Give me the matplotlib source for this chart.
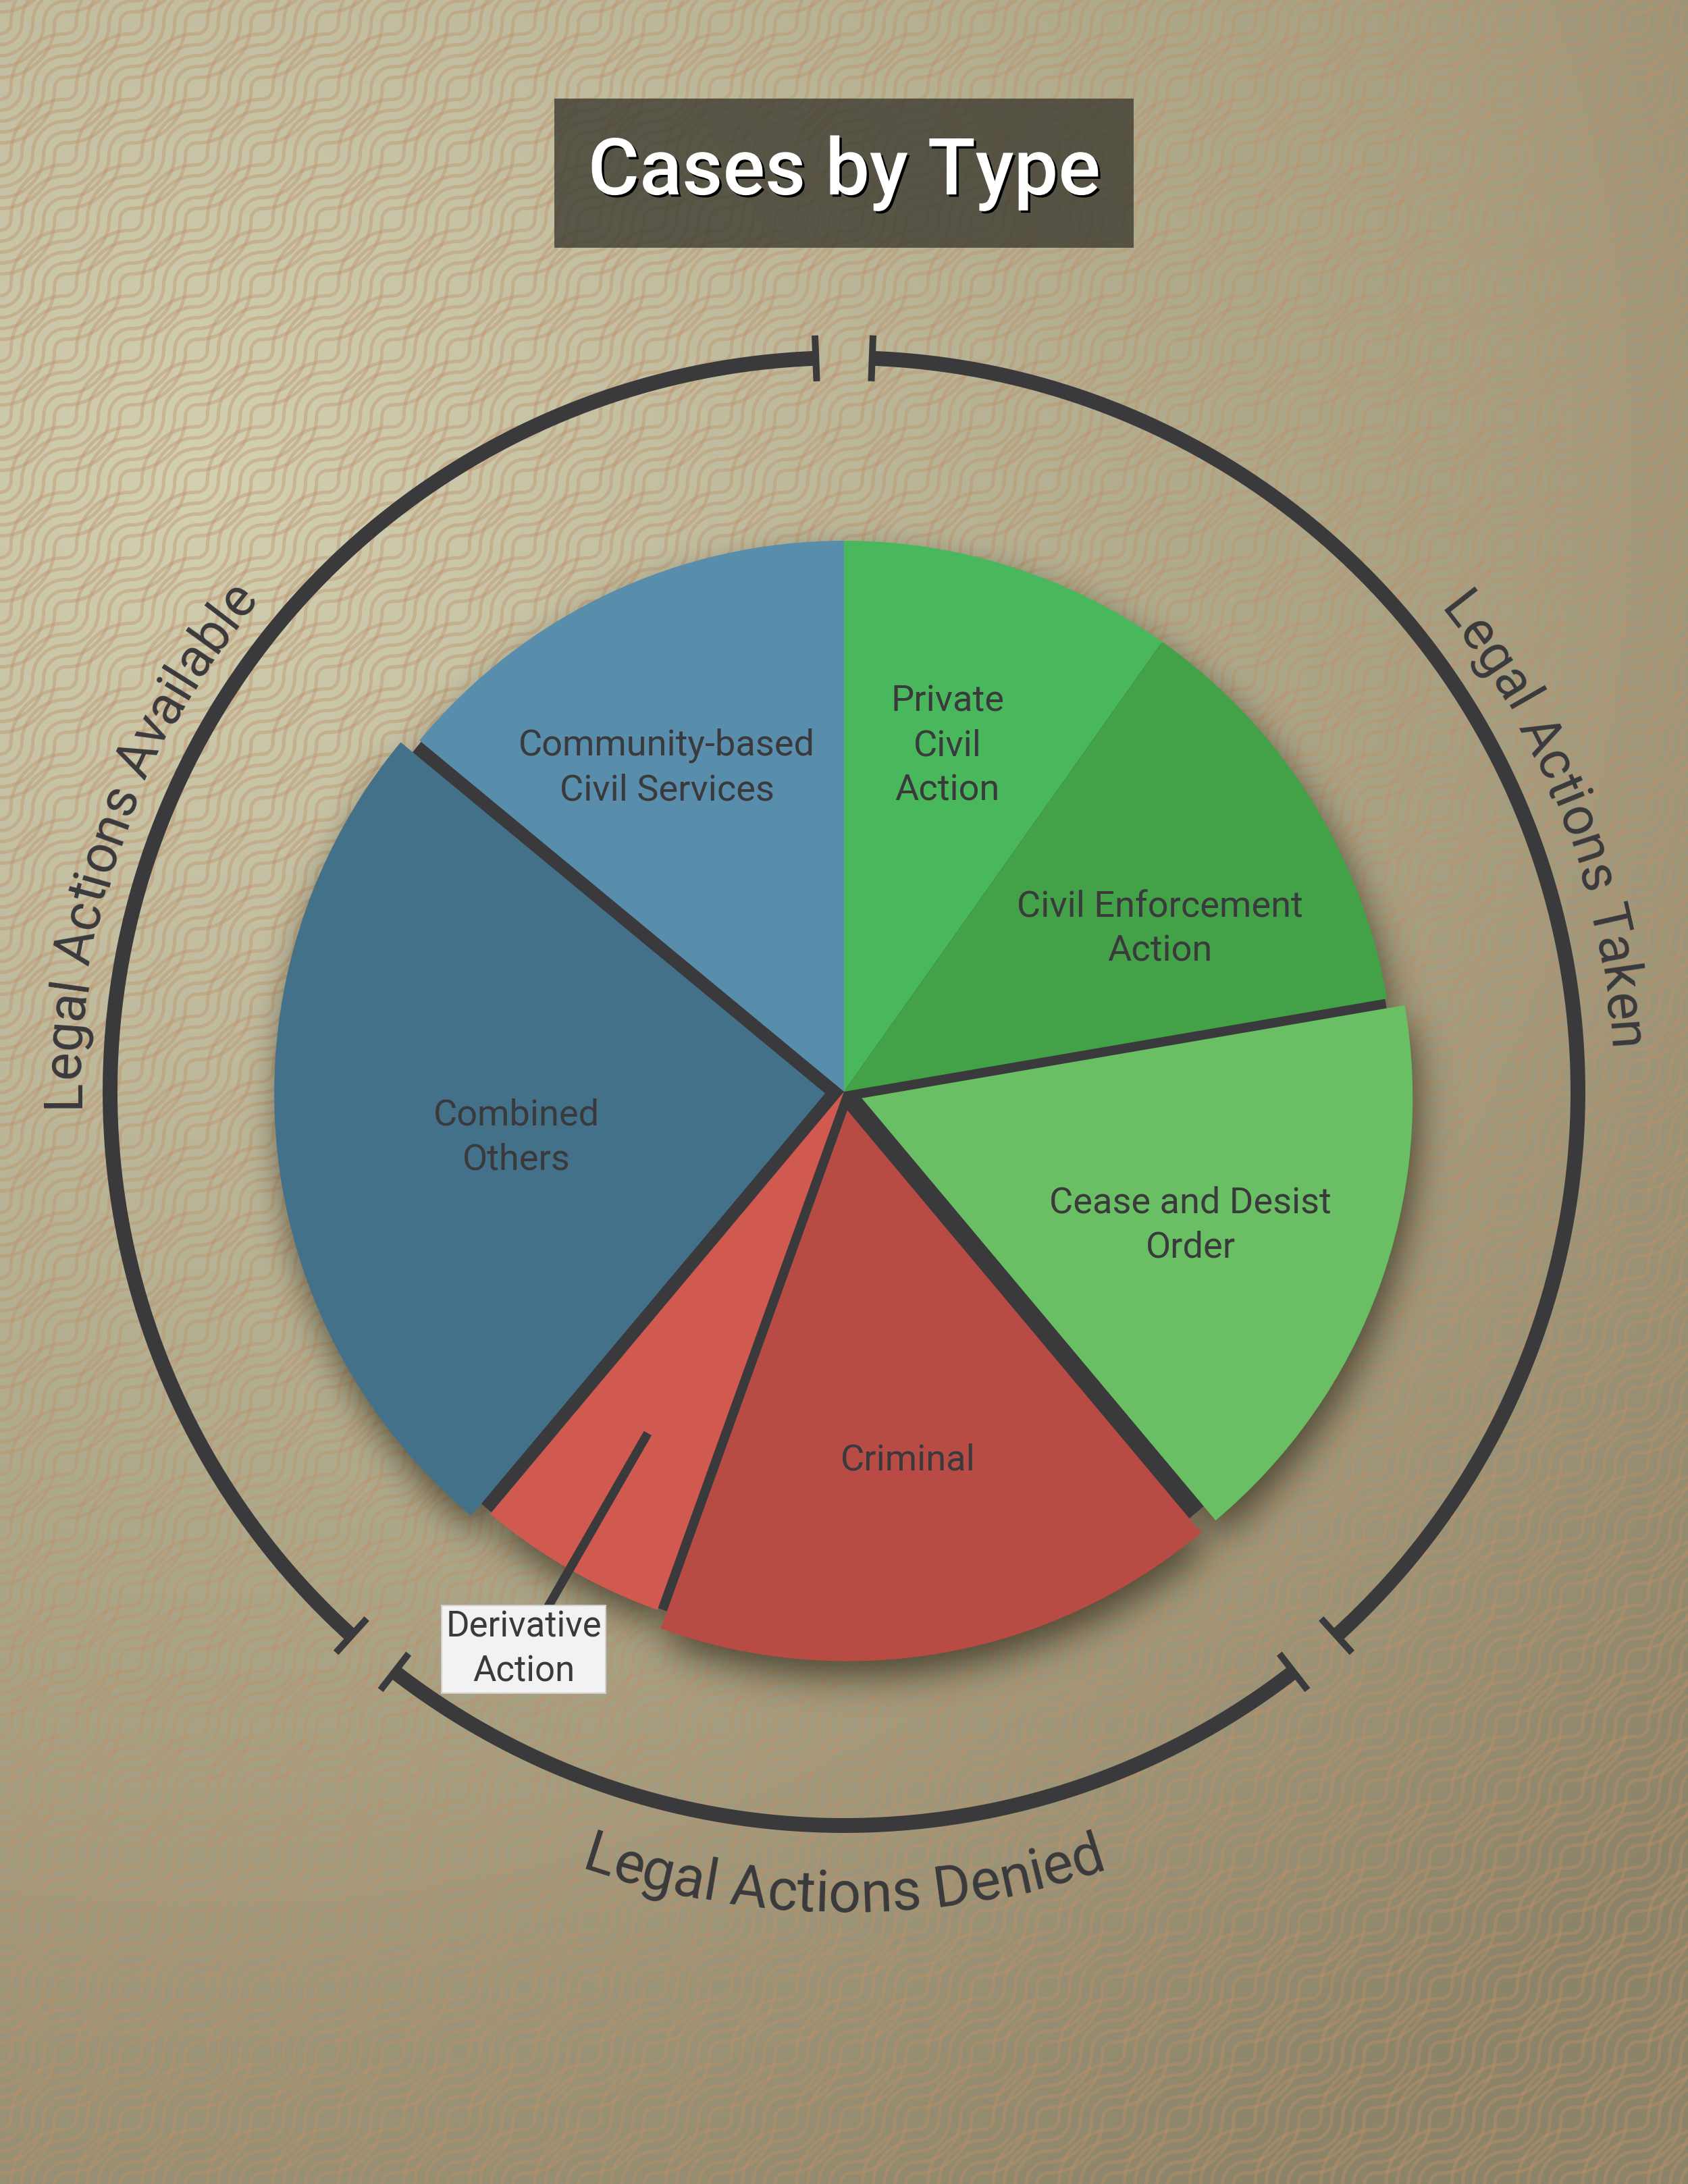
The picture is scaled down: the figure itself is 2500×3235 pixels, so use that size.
import numpy as np
import matplotlib
matplotlib.use("Agg")
import matplotlib.pyplot as plt
import matplotlib.patheffects as pe
from matplotlib.collections import LineCollection
from matplotlib.patches import Circle, Rectangle
from matplotlib.font_manager import FontProperties, findfont, get_font

W, H = 2500, 3235
DPI = 100

# ---- data -------------------------------------------------------------
case_types = ["Private\nCivil\nAction", "Civil Enforcement\nAction",
              "Cease and Desist\nOrder", "Criminal", "Derivative\nAction",
              "Combined\nOthers", "Community-based\nCivil Services"]
shares = [9.8, 12.5, 16.6, 16.6, 5.6, 24.9, 14.0]
slice_colors = ["#49b85c", "#43a148", "#6abe64", "#b84c45",
                "#d05950", "#44718a", "#588dac"]
exploded = [0, 0, 1, 1, 0, 1, 0]

group_names = ["Legal Actions Taken", "Legal Actions Denied", "Legal Actions Available"]
group_sizes = [3, 2, 2]          # number of slices in each group, clockwise

# ---- layout / style ---------------------------------------------------
CX, CY = 1250, H - 1617          # pie centre (y measured upward)
R = 816
EXPLODE = 28
RING_R = 1087
RING_GAP = 2.2                    # degrees left open at each group boundary
DARK = "#3a393c"
LABEL_R = [0.655, 0.645, 0.64, 0.645, None, 0.566, 0.67]
LABEL_TURN = [-1.0, 5.0, 1.0, 0.3, 0.0, -2.9, -3.5]

fig = plt.figure(figsize=(W / DPI, H / DPI), dpi=DPI)
ax = fig.add_axes([0, 0, 1, 1])
ax.set_axis_off()

# background gradient
gx, gy = np.meshgrid(np.linspace(0, W, 120), np.linspace(0, H, 160))
dist = np.clip(np.hypot(gx - 300, gy - (H - 700)) / 3000, 0, 1)
light = np.array([212, 208, 178]) / 255
dark = np.array([140, 132, 104]) / 255
bg = light + (dark - light) * dist[..., None]
ax.imshow(bg, extent=(0, W, 0, H), origin="lower", interpolation="bilinear",
          aspect="auto", zorder=0)

# wave texture: concentric quarter circles from opposite corners of each cell
P = 97.0
radii = P * np.arange(1, 6) / 6
q = np.linspace(0, np.pi / 2, 22)
segs = []
for x0 in np.arange(-P, W + P, P):
    for y0 in np.arange(-P, H + P, P):
        for r in radii:
            segs.append(np.column_stack([x0 + P - r * np.cos(q), y0 + r * np.sin(q)]))
            segs.append(np.column_stack([x0 + r * np.cos(q), y0 + P - r * np.sin(q)]))
ax.add_collection(LineCollection(segs, colors=[(0.74, 0.57, 0.41)],
                                 linewidths=3.6, alpha=0.4, zorder=0.5))

# pie
wedges, _ = ax.pie(shares, colors=slice_colors, startangle=90, counterclock=False,
                   radius=R, center=(CX, CY),
                   explode=[e * EXPLODE for e in exploded],
                   wedgeprops=dict(linewidth=0, zorder=2))

# soft drop shadow of the whole pie (blurred mask)
S = 4
XX, YY = np.meshgrid(np.arange(0, W, S) + S / 2, np.arange(0, H, S) + S / 2)
mask = np.zeros_like(XX)
for w in wedges:
    dx, dy = XX - w.center[0], YY - w.center[1]
    ang = np.degrees(np.arctan2(dy, dx))
    inside = (np.hypot(dx, dy) <= w.r) & (((ang - w.theta1) % 360) <= (w.theta2 - w.theta1))
    mask[inside] = 1.0
sig = 26 / S
kx = np.arange(-int(3 * sig), int(3 * sig) + 1)
kern = np.exp(-0.5 * (kx / sig) ** 2)
kern /= kern.sum()
blur = np.apply_along_axis(lambda v: np.convolve(v, kern, mode="same"), 0, mask)
blur = np.apply_along_axis(lambda v: np.convolve(v, kern, mode="same"), 1, blur)
shadow = np.zeros(mask.shape + (4,))
shadow[..., :3] = np.array([40, 36, 20]) / 255
shadow[..., 3] = 0.68 * blur
ax.imshow(shadow, extent=(8, W + 8, -24, H - 24), origin="lower",
          interpolation="bilinear", aspect="auto", zorder=0.8)

# dark base that shows through the gaps of the exploded slices
ax.add_patch(Circle((CX, CY), R - 3, fc=DARK, lw=0, zorder=1))

# slice labels
for w, lab, lr, turn in zip(wedges, case_types, LABEL_R, LABEL_TURN):
    if lr is None:
        continue
    th = np.radians((w.theta1 + w.theta2) / 2 - turn)
    ax.text(w.center[0] + lr * w.r * np.cos(th), w.center[1] + lr * w.r * np.sin(th),
            lab, ha="center", va="center", multialignment="center",
            fontsize=39, family="Roboto", color=DARK, linespacing=1.38, zorder=4)

# the small slice gets a leader line and boxed label
dw = wedges[4]
th = np.radians((dw.theta1 + dw.theta2) / 2)
ux, uy = np.cos(th), np.sin(th)
ax.plot([dw.center[0] + 0.715 * R * ux, dw.center[0] + 1.08 * R * ux],
        [dw.center[1] + 0.715 * R * uy, dw.center[1] + 1.08 * R * uy],
        color=DARK, lw=9.4, solid_capstyle="butt", zorder=3)
ax.text(dw.center[0] + 1.167 * R * ux, dw.center[1] + 1.167 * R * uy, case_types[4],
        ha="center", va="center", multialignment="center", fontsize=38,
        family="Roboto", color=DARK, linespacing=1.38, zorder=5,
        bbox=dict(boxstyle="square,pad=0.12", fc="#f2f2f2", ec="#d0d0d0", lw=1.5))

# group rings (angles clockwise from 12 o'clock)
bounds = np.concatenate([[0], np.cumsum(shares)]) / sum(shares) * 360
edges = np.concatenate([[0], np.cumsum(group_sizes)])


def polar(r, phi):
    p = np.radians(phi)
    return CX + r * np.sin(p), CY + r * np.cos(p)


def arc_text(s, phi_c, r_base, size, bottom):
    fp = FontProperties(family="Roboto", size=size)
    ft = get_font(findfont(fp))
    ft.set_size(size, DPI)
    adv = np.array([ft.load_char(ord(c)).linearHoriAdvance / 65536 for c in s])
    pos = np.cumsum(adv) - adv / 2 - adv.sum() / 2
    for ch, p in zip(s, pos):
        if ch == " ":
            continue
        if bottom:
            phi = phi_c - np.degrees(p / r_base)
            rot = 180 - phi
        else:
            phi = phi_c + np.degrees(p / r_base)
            rot = -phi
        x, y = polar(r_base, phi)
        ax.text(x, y, ch, rotation=rot, rotation_mode="anchor", ha="center",
                va="baseline", fontproperties=fp, color=DARK, zorder=4)


for name, i0, i1 in zip(group_names, edges[:-1], edges[1:]):
    p0, p1 = bounds[i0] + RING_GAP, bounds[i1] - RING_GAP
    phis = np.linspace(p0, p1, 400)
    xs, ys = polar(RING_R, phis)
    ax.plot(xs, ys, color=DARK, lw=15.8, solid_capstyle="butt", zorder=3)
    for end in (p0, p1):
        tx, ty = polar(np.array([RING_R - 34, RING_R + 34]), end)
        ax.plot(tx, ty, color=DARK, lw=7.2, solid_capstyle="butt", zorder=3)
    mid = (p0 + p1) / 2
    if 150 < mid < 210:
        arc_text(name, mid, 1215, 61, True)
    elif mid < 180:
        arc_text(name, mid - 1.0, 1134, 57, False)
    else:
        arc_text(name, mid - 0.5, 1134, 57, False)

# title
ax.add_patch(Rectangle((821, H - 367), 858, 221, fc="#3b3a30", alpha=0.78, lw=0,
                       zorder=3))
ax.text(CX, H - 288, "Cases by Type", ha="center", va="baseline", fontsize=84,
        family="Roboto", fontweight="medium", color="white", zorder=4,
        path_effects=[pe.SimplePatchShadow(offset=(2.5, -2.5), shadow_rgbFace="black",
                                           alpha=1.0), pe.Normal()])

ax.set_xlim(0, W)
ax.set_ylim(0, H)
ax.set_aspect("auto")
fig.savefig("out.png", dpi=DPI)
